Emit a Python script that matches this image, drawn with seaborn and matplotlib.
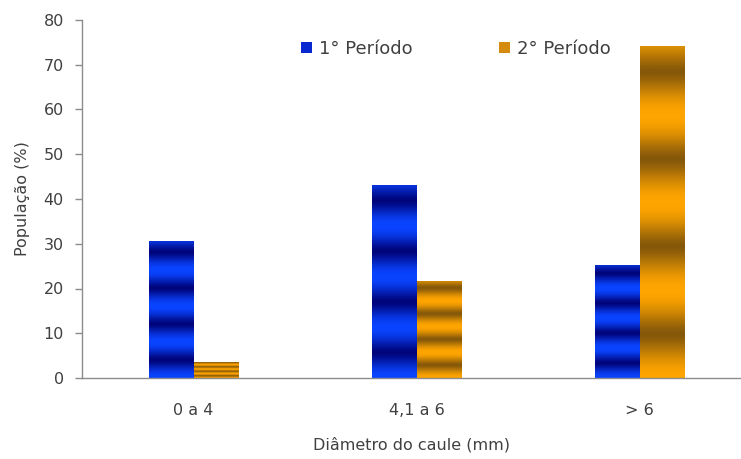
import numpy as np
import pandas as pd
import matplotlib
matplotlib.use("Agg")
import matplotlib.pyplot as plt
import seaborn as sns
from matplotlib.colors import LinearSegmentedColormap

# data
classes = ["0 a 4", "4,1 a 6", "> 6"]
periodos = ["1° Período", "2° Período"]
periodo1 = [30.6, 43.1, 25.3]
periodo2 = [3.6, 21.7, 74.2]
yticks = [0, 10, 20, 30, 40, 50, 60, 70, 80]

df = pd.DataFrame({
    "classe": classes * 2,
    "valor": periodo1 + periodo2,
    "periodo": [periodos[0]] * 3 + [periodos[1]] * 3,
})

blue_dark, blue_light = "#00047a", "#0a44ff"
orange_dark, orange_light = "#85580a", "#ffa500"
legend_colors = ["#0a28d0", "#d48c10"]
text_color = "#404040"
axis_color = "#8c8c8c"

sns.set_style("white")
plt.rcParams["font.family"] = ["DejaVu Sans"]

fig = plt.figure(figsize=(7.41, 4.59), dpi=100)
ax = fig.add_axes([82 / 741, 81 / 459, 659 / 741, 358 / 459])

sns.barplot(data=df, x="classe", y="valor", hue="periodo",
            palette=[blue_light, orange_light], width=0.4, ax=ax,
            edgecolor="none", saturation=1)

# striped gradient fill, clipped to each bar
cmaps = [LinearSegmentedColormap.from_list("b", [blue_dark, blue_light]),
         LinearSegmentedColormap.from_list("o", [orange_dark, orange_light])]
t = np.linspace(0, 1, 400)
stripes = (0.5 + 0.5 * np.cos(2 * np.pi * 3.8 * t)) ** 0.7
for cont, cmap in zip(ax.containers, cmaps):
    for bar in cont:
        x0, y0 = bar.get_x(), bar.get_y()
        w, h = bar.get_width(), bar.get_height()
        im = ax.imshow(stripes.reshape(-1, 1), extent=[x0, x0 + w, y0, y0 + h],
                       origin="lower", aspect="auto", cmap=cmap,
                       interpolation="bilinear", zorder=2.5)
        im.set_clip_path(bar)

ax.set_xlim(-0.5, 2.455)
ax.set_ylim(0, 80)
ax.set_yticks(yticks)
ax.set_aspect("auto")

for s in ["top", "right"]:
    ax.spines[s].set_visible(False)
for s in ["left", "bottom"]:
    ax.spines[s].set_color(axis_color)
    ax.spines[s].set_linewidth(1)

ax.tick_params(axis="y", length=5, width=1, color=axis_color, pad=8,
               labelsize=11.5, labelcolor=text_color, left=True)
ax.tick_params(axis="x", length=0, pad=18, labelsize=11.5, labelcolor=text_color)

ax.set_xlabel("Diâmetro do caule (mm)", fontsize=11.5, color=text_color, labelpad=14)
ax.set_ylabel("População (%)", fontsize=11.5, color=text_color, labelpad=10)

handles, labels = ax.get_legend_handles_labels()
leg = ax.legend(handles, labels, loc="center", bbox_to_anchor=(0.5675, 0.919), ncol=2,
                frameon=False, fontsize=13, labelcolor=text_color,
                handlelength=0.6, handleheight=0.6, handletextpad=0.4,
                columnspacing=4.8)
for patch, c in zip(leg.get_patches(), legend_colors):
    patch.set_facecolor(c)

fig.savefig("out.png", dpi=100)
